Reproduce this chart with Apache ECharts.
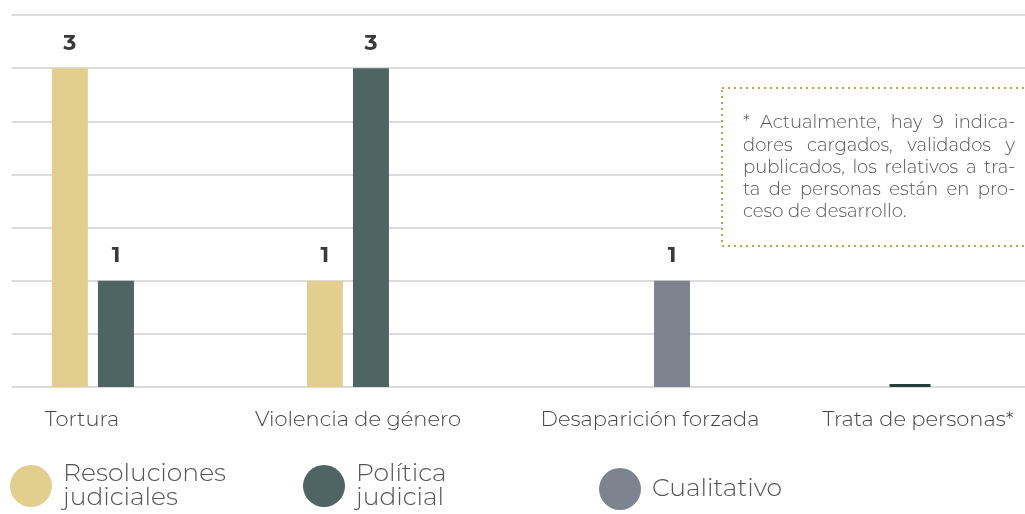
<!DOCTYPE html>
<html>
<head>
<meta charset="utf-8">
<script src="https://cdn.jsdelivr.net/npm/echarts@6/dist/echarts.min.js"></script>
<style>
  html, body { margin: 0; padding: 0; background: #fff; }
  #chart { width: 1025px; height: 514px; }
</style>
</head>
<body>
<div id="chart"></div>
<script>
const categories = ['Tortura', 'Violencia de género', 'Desaparición forzada', 'Trata de personas*']
const resoluciones = [3, 1, null, null]
const politica = [1, 3, null, null]
const cualitativo = [null, null, 1, null]
// trata de personas: sin indicadores publicados (marca en cero)
const trata = [null, null, null, 0]
const labelShift = [-57, -36, 1, 14]
const noteLines = [
  '* Actualmente, hay 9 indica-',
  'dores cargados, validados y',
  'publicados, los relativos a tra-',
  'ta de personas están en pro-',
  'ceso de desarrollo.'
]

const font = 'Montserrat, "DejaVu Sans", sans-serif'
const noteSize = 18
const chart = echarts.init(document.getElementById('chart'))

function barLabel() {
  return {
    show: true,
    position: 'top',
    distance: 14,
    fontFamily: font,
    fontSize: 22,
    fontWeight: 'bold',
    color: '#3a3a3a'
  }
}

function legendFor(name, left, top, pad) {
  return {
    data: [name],
    left: left,
    top: top,
    padding: 0,
    orient: 'horizontal',
    icon: 'circle',
    itemWidth: 42,
    itemHeight: 42,
    selectedMode: false,
    textStyle: {
      fontFamily: font,
      fontWeight: 300,
      fontSize: 25,
      lineHeight: 24,
      color: '#555',
      padding: [pad, 0, 0, 6]
    }
  }
}

// texto justificado de la nota: cada palabra como texto propio
function noteText(x0, y0, width, lineHeight) {
  const ctx = document.createElement('canvas').getContext('2d')
  ctx.font = '300 ' + noteSize + 'px ' + font
  const out = []
  noteLines.forEach(function(line, li) {
    const words = line.split(' ')
    const widths = words.map(w => ctx.measureText(w).width)
    const total = widths.reduce((a, b) => a + b, 0)
    const last = li === noteLines.length - 1
    const gap = last ? ctx.measureText(' ').width : (width - total) / (words.length - 1)
    let x = x0
    words.forEach(function(w, wi) {
      out.push({
        type: 'text',
        x: x,
        y: y0 + li * lineHeight,
        z: 101,
        silent: true,
        style: {
          text: w,
          fontFamily: font,
          fontWeight: 300,
          fontSize: noteSize,
          fill: '#555',
          textVerticalAlign: 'middle'
        }
      })
      x += widths[wi] + gap
    })
  })
  return out
}

chart.setOption({
  animation: false,
  grid: [
    { left: 11.5, width: 1020, top: 15, bottom: 127, outerBoundsMode: 'none' },
    { left: 17.5, width: 1020, top: 15, bottom: 127, outerBoundsMode: 'none' }
  ],
  xAxis: [{
    type: 'category',
    gridIndex: 0,
    data: categories,
    axisLine: { show: false },
    axisTick: { show: false },
    axisLabel: {
      margin: 22,
      interval: 0,
      formatter: function(v, i) {
        return '{c' + i + '|' + v + '}'
      },
      rich: categories.reduce(function(r, c, i) {
        const s = labelShift[i]
        r['c' + i] = {
          fontFamily: font,
          fontWeight: 300,
          fontSize: 21,
          color: '#444',
          padding: s < 0 ? [0, -2 * s, 0, 0] : [0, 0, 0, 2 * s]
        }
        return r
      }, {})
    }
  }, {
    type: 'category',
    gridIndex: 1,
    data: categories,
    show: false
  }],
  yAxis: [{
    type: 'value',
    gridIndex: 0,
    min: 0,
    max: 3.5,
    interval: 0.5,
    axisLine: { show: false },
    axisTick: { show: false },
    axisLabel: { show: false },
    splitLine: { lineStyle: { color: '#dcdcdc', width: 2 } }
  }, {
    type: 'value',
    gridIndex: 1,
    min: 0,
    max: 3.5,
    show: false,
    splitLine: { show: false }
  }],
  legend: [
    legendFor('Resoluciones\njudiciales', 10, 459, 6),
    legendFor('Política\njudicial', 303, 459, 6),
    legendFor('Cualitativo', 599, 468, 0)
  ],
  series: [{
    name: 'Resoluciones\njudiciales',
    type: 'bar',
    data: resoluciones,
    barWidth: 36,
    barGap: '28%',
    itemStyle: { color: '#e2cf8e' },
    label: barLabel()
  }, {
    name: 'Política\njudicial',
    type: 'bar',
    data: politica,
    barWidth: 36,
    barGap: '28%',
    itemStyle: { color: '#4f6563' },
    label: barLabel()
  }, {
    name: 'Cualitativo',
    type: 'bar',
    data: cualitativo,
    barWidth: 36,
    barGap: '28%',
    itemStyle: { color: '#7e848f' },
    label: barLabel()
  }, {
    name: 'vacio',
    type: 'bar',
    data: [],
    barWidth: 36,
    barGap: '28%'
  }, {
    name: 'Trata',
    type: 'bar',
    xAxisIndex: 1,
    yAxisIndex: 1,
    data: trata,
    barWidth: 41,
    barMinHeight: 3,
    itemStyle: { color: '#23403b' }
  }],
  graphic: [{
    type: 'rect',
    x: 722,
    y: 88,
    z: 100,
    shape: { width: 330, height: 158 },
    style: {
      fill: '#fff',
      stroke: '#c2a24a',
      lineWidth: 2,
      lineDash: [2, 4]
    },
    silent: true
  }].concat(noteText(743, 123, 272, 22.3))
})
</script>
</body>
</html>
